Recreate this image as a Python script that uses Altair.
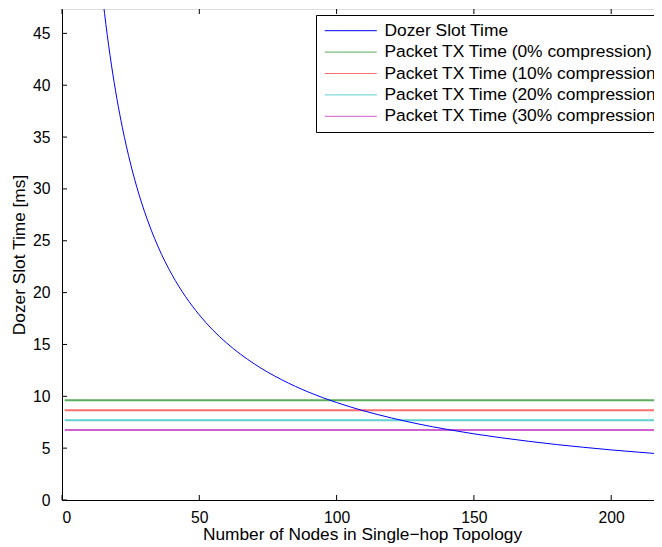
import altair as alt
import pandas as pd

# --- data ---
nodes = [14, 15, 16, 18, 20, 22, 25, 28, 30, 35, 40, 45, 50, 55, 60, 70, 80, 90,
         100, 110, 120, 130, 140, 150, 160, 170, 180, 190, 200, 210, 220]
slot_time = [50.49, 48.05, 45.83, 41.96, 38.69, 35.90, 32.39, 29.50, 27.85, 24.42,
             21.75, 19.61, 17.85, 16.37, 15.13, 13.13, 11.60, 10.38, 9.40, 8.59,
             7.91, 7.32, 6.82, 6.38, 6.00, 5.66, 5.35, 5.08, 4.83, 4.61, 4.40]
series_names = ["Dozer Slot Time",
                "Packet TX Time (0% compression)",
                "Packet TX Time (10% compression",
                "Packet TX Time (20% compression)",
                "Packet TX Time (30% compression)"]
series_colors = ["#0000ff", "#5aae5a", "#ff6e6e", "#5fd0d0", "#d060d0"]
tx_times = [9.62, 8.66, 7.70, 6.74]
tx_x = [1, 220]
x_ticks = [0, 50, 100, 150, 200]
y_ticks = [0, 5, 10, 15, 20, 25, 30, 35, 40, 45]

curve_df = pd.DataFrame({"series": series_names[0], "x": nodes, "y": slot_time})
tx_rows = []
for name, t in zip(series_names[1:], tx_times):
    for x in tx_x:
        tx_rows.append({"series": name, "x": x, "y": t})
tx_df = pd.DataFrame(tx_rows)

FONT = "Liberation Sans"
xscale = alt.Scale(domain=[0, 218.5], nice=False, zero=False)
yscale = alt.Scale(domain=[0, 47.35], nice=False, zero=False)

x_enc = alt.X("x:Q", scale=xscale, title="Number of Nodes in Single\u2212hop Topology",
              axis=alt.Axis(values=x_ticks, ticks=False, tickSize=0, labelPadding=10,
                            titlePadding=1, grid=False, domainColor="black",
                            labelFont=FONT, labelFontSize=15.7, labelColor="black",
                            titleFont=FONT, titleFontSize=17.3, titleFontWeight="normal",
                            titleColor="black"))
y_enc = alt.Y("y:Q", scale=yscale, title="Dozer Slot Time [ms]",
              axis=alt.Axis(values=y_ticks, ticks=False, tickSize=0, labelPadding=12,
                            titlePadding=4, grid=False, domainColor="black",
                            labelFont=FONT, labelFontSize=15.7, labelColor="black",
                            titleFont=FONT, titleFontSize=17.3, titleFontWeight="normal",
                            titleColor="black"))
color_enc = alt.Color("series:N",
                      scale=alt.Scale(domain=series_names, range=series_colors),
                      legend=alt.Legend(title=None, orient="none", legendX=254, legendY=6,
                                        symbolType="M-1.327,0H8.673", symbolSize=108,
                                        symbolStrokeWidth=1, labelFont=FONT,
                                        labelFontSize=17.4, labelColor="black",
                                        labelLimit=0, labelOffset=44, rowPadding=2.4,
                                        strokeColor="black", fillColor="white",
                                        padding=7))

curve = alt.Chart(curve_df).mark_line(strokeWidth=1, clip=True, interpolate="monotone").encode(
    x=x_enc, y=y_enc, color=color_enc, order=alt.Order("x:Q"))
tx_lines = alt.Chart(tx_df).mark_line(strokeWidth=2, clip=True).encode(
    x=x_enc, y=y_enc, color=color_enc, order=alt.Order("x:Q"))

xt = pd.DataFrame({"v": x_ticks})
yt = pd.DataFrame({"v": y_ticks})
xtick_bottom = alt.Chart(xt).mark_rule(color="black", strokeWidth=1).encode(
    x=alt.X("v:Q", scale=xscale), y=alt.value(491), y2=alt.value(486))
xtick_top = alt.Chart(xt).mark_rule(color="black", strokeWidth=1).encode(
    x=alt.X("v:Q", scale=xscale), y=alt.value(0), y2=alt.value(5))
ytick_left = alt.Chart(yt).mark_rule(color="black", strokeWidth=1).encode(
    y=alt.Y("v:Q", scale=yscale), x=alt.value(0), x2=alt.value(5))

chart = alt.layer(tx_lines, curve, xtick_bottom, xtick_top, ytick_left).properties(
    width=600, height=491,
    autosize=alt.AutoSizeParams(type="none"),
    padding={"left": 54, "top": 1, "right": -8, "bottom": 47},
).configure_view(stroke="black", strokeWidth=1).configure(background="white")

chart.save("out.html", embed_options={"renderer": "svg", "actions": False})
